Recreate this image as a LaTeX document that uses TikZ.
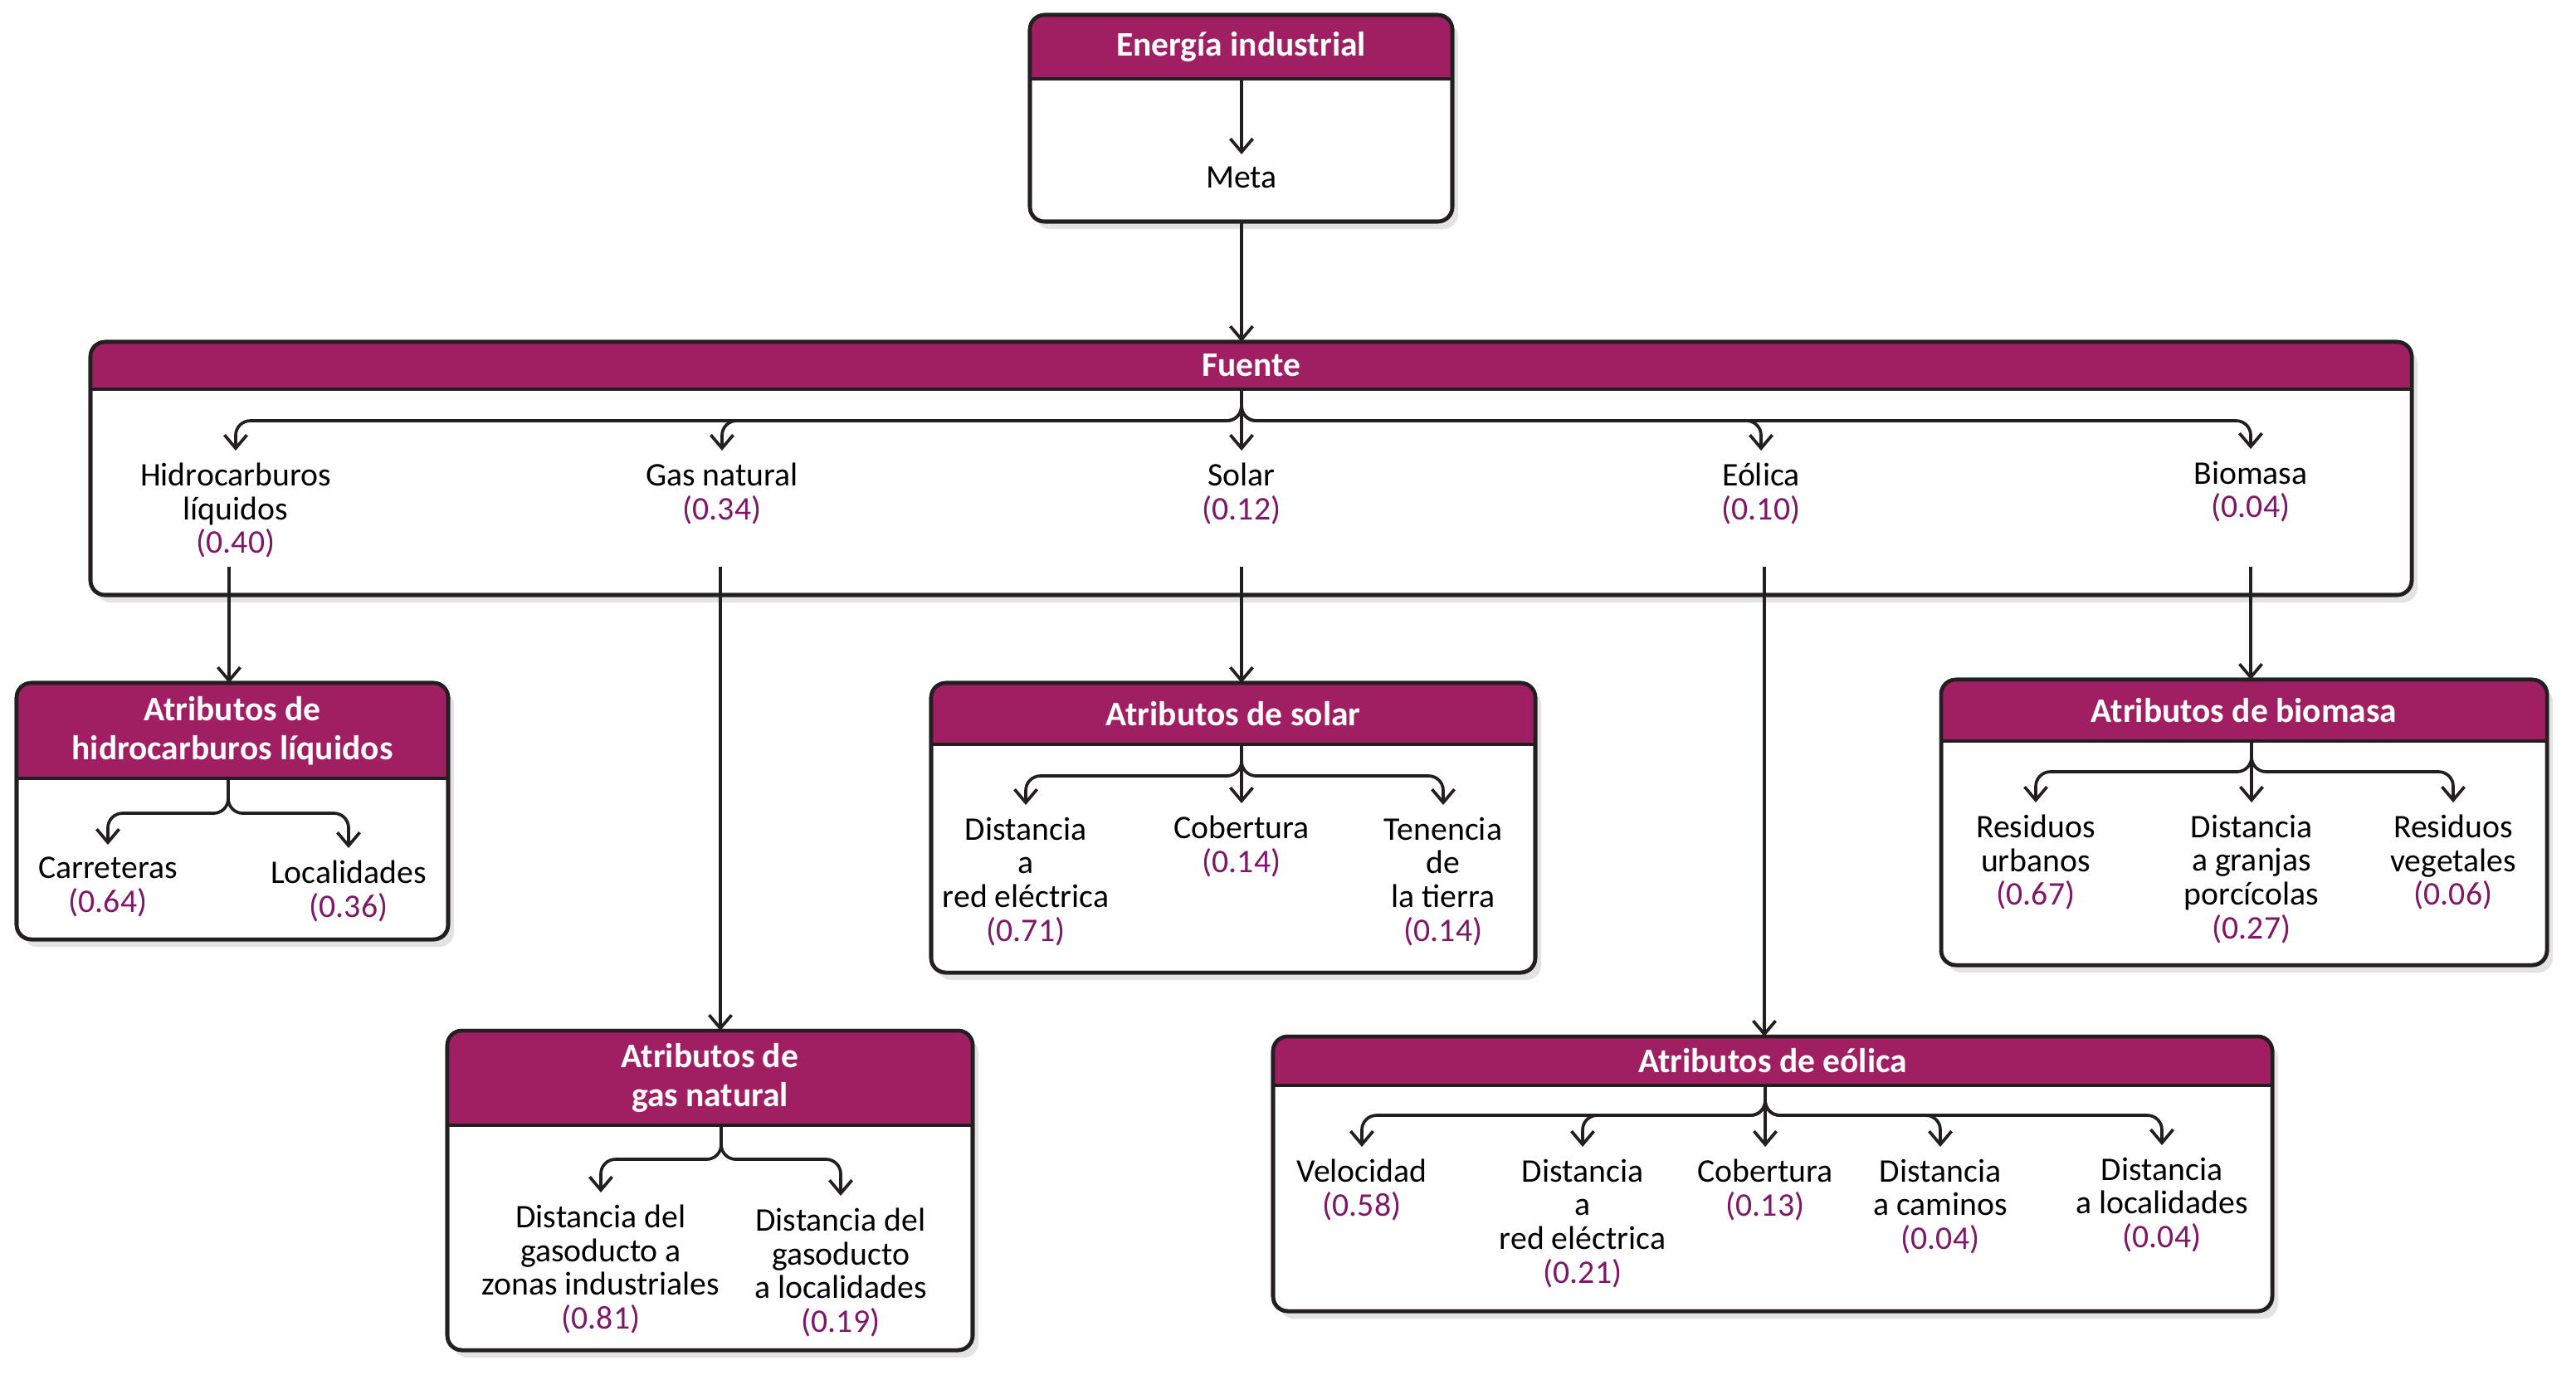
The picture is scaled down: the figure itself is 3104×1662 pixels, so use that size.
\documentclass[tikz,border=0pt]{standalone}
\usepackage{fontspec}
\setmainfont{Carlito}
\usepackage{xcolor}
\usetikzlibrary{
  arrows.meta,
  positioning,
  fit,
  shadows
}
\definecolor{hdrmag}{RGB}{160,31,99}
\definecolor{valpurple}{RGB}{128,22,104}
\definecolor{boxline}{RGB}{35,31,32}

\newcommand{\val}[1]{\textcolor{valpurple}{#1}}

\tikzset{
  box/.style={draw=boxline, line width=1.3pt, rounded corners=5pt, fill=white,
    inner sep=0pt, outer sep=0pt,
    drop shadow={opacity=0.22, shadow xshift=0.07cm, shadow yshift=-0.09cm}},
  hdr/.style={font=\fontsize{11.8}{13.5}\selectfont\bfseries, text=white, align=center},
  lbl/.style={font=\fontsize{11.3}{11.6}\selectfont, align=center, anchor=north, inner sep=4pt},
  arr/.style={draw=boxline, line width=1.05pt, rounded corners=5pt,
    -{Straight Barb[length=1.6mm, width=2.7mm, line width=1.05pt]}}
}

% box with coloured header: name, x1, y1, x2, y2, header bottom, title
\newcommand{\hdrbox}[7]{%
  \node[box, fit={(#2,#3) (#4,#5)}] (#1) {};
  \begin{scope}
    \clip[rounded corners=5pt] (#1.north west) rectangle (#1.south east);
    \fill[hdrmag] (#1.north west) rectangle (#4,#6);
  \end{scope}
  \draw[boxline, line width=1.3pt, rounded corners=5pt] (#1.north west) rectangle (#1.south east);
  \draw[boxline, line width=1.3pt] (#2,#6) -- (#4,#6);
  \node[hdr] (#1-t) at ({(#2+#4)/2},{(#3+#6)/2}) {#7};
}

\begin{document}
\begin{tikzpicture}[x=0.01cm, y=-0.01cm]
  \useasboundingbox (0,0) rectangle (3104,1662);

  % Goal
  \hdrbox{topbox}{1241}{18}{1750}{267}{95}{Energía industrial}
  \coordinate (topbox-h) at (1496,95);
  \node[lbl] (meta) at (1496,186) {Meta};
  \draw[arr] (topbox-h) -- (meta.north);

  % Sources
  \hdrbox{fuente}{109}{412}{2906}{717}{469}{Fuente}
  \draw[arr] (topbox.south -| meta) -- (fuente.north -| meta);
  \coordinate (fuente-h) at (1496,469);
  \node[lbl] (hidro) at (284,543) {Hidrocarburos\\líquidos\\\val{(0.40)}};
  \node[lbl] (gas) at (870,543) {Gas natural\\\val{(0.34)}};
  \node[lbl] (solar) at (1496,543) {Solar\\\val{(0.12)}};
  \node[lbl] (eolica) at (2122,543) {Eólica\\\val{(0.10)}};
  \node[lbl] (biomasa) at (2712,541) {Biomasa\\\val{(0.04)}};
  \foreach \n in {hidro,gas,eolica,biomasa}
    \draw[arr] (fuente-h) -- (fuente-h |- 0,507) -| (\n.north);
  \draw[arr] (fuente-h) -- (solar.north);

  \coordinate (hidro-d) at (276,683);
  \coordinate (gas-d) at (868,683);
  \coordinate (solar-d) at (1496,683);
  \coordinate (eolica-d) at (2126,683);
  \coordinate (biomasa-d) at (2712,683);

  % Liquid hydrocarbons
  \hdrbox{hidrobox}{20}{823}{540}{1132}{938}{Atributos de\\hidrocarburos líquidos}
  \draw[arr] (hidro-d) -- (hidro-d |- hidrobox.north);
  \coordinate (hidrobox-h) at (275,938);
  \node[lbl] (carreteras) at (130,1018) {Carreteras\\\val{(0.64)}};
  \node[lbl] (localidades) at (420,1022) {Localidades\\\val{(0.36)}};
  \foreach \n in {carreteras,localidades}
    \draw[arr] (hidrobox-h) -- (hidrobox-h |- 0,980) -| (\n.north);

  % Natural gas
  \hdrbox{gasbox}{539}{1242}{1172}{1627}{1356}{Atributos de\\gas natural}
  \draw[arr] (gas-d) -- (gas-d |- gasbox.north);
  \coordinate (gasbox-h) at (869,1356);
  \node[lbl] (gasind) at (724,1437) {Distancia del\\gasoducto a\\zonas industriales\\\val{(0.81)}};
  \node[lbl] (gasloc) at (1013,1441) {Distancia del\\gasoducto\\a localidades\\\val{(0.19)}};
  \foreach \n in {gasind,gasloc}
    \draw[arr] (gasbox-h) -- (gasbox-h |- 0,1397) -| (\n.north);

  % Solar
  \hdrbox{solarbox}{1122}{823}{1850}{1172}{897}{Atributos de solar}
  \draw[arr] (solar-d) -- (solar-d |- solarbox.north);
  \coordinate (solarbox-h) at (1496,897);
  \node[lbl] (distred) at (1236,970) {Distancia\\a\\red eléctrica\\\val{(0.71)}};
  \node[lbl] (cobsolar) at (1496,968) {Cobertura\\\val{(0.14)}};
  \node[lbl] (tenencia) at (1739,970) {Tenencia\\de\\la tierra\\\val{(0.14)}};
  \foreach \n in {distred,tenencia}
    \draw[arr] (solarbox-h) -- (solarbox-h |- 0,935) -| (\n.north);
  \draw[arr] (solarbox-h) -- (cobsolar.north);

  % Wind
  \hdrbox{eolbox}{1534}{1249}{2738}{1580}{1308}{Atributos de eólica}
  \draw[arr] (eolica-d) -- (eolica-d |- eolbox.north);
  \coordinate (eolbox-h) at (2127,1308);
  \node[lbl] (velocidad) at (1641,1382) {Velocidad\\\val{(0.58)}};
  \node[lbl] (distredeol) at (1907,1382) {Distancia\\a\\red eléctrica\\\val{(0.21)}};
  \node[lbl] (cobeol) at (2127,1382) {Cobertura\\\val{(0.13)}};
  \node[lbl] (caminos) at (2338,1382) {Distancia\\a caminos\\\val{(0.04)}};
  \node[lbl] (loceol) at (2605,1380) {Distancia\\a localidades\\\val{(0.04)}};
  \foreach \n in {velocidad,distredeol,caminos,loceol}
    \draw[arr] (eolbox-h) -- (eolbox-h |- 0,1344) -| (\n.north);
  \draw[arr] (eolbox-h) -- (cobeol.north);

  % Biomass
  \hdrbox{biobox}{2339}{819}{3069}{1163}{893}{Atributos de biomasa}
  \draw[arr] (biomasa-d) -- (biomasa-d |- biobox.north);
  \coordinate (biobox-h) at (2713,893);
  \node[lbl] (resurb) at (2453,967) {Residuos\\urbanos\\\val{(0.67)}};
  \node[lbl] (granjas) at (2713,967) {Distancia\\a granjas\\porcícolas\\\val{(0.27)}};
  \node[lbl] (resveg) at (2956,967) {Residuos\\vegetales\\\val{(0.06)}};
  \foreach \n in {resurb,resveg}
    \draw[arr] (biobox-h) -- (biobox-h |- 0,930) -| (\n.north);
  \draw[arr] (biobox-h) -- (granjas.north);
\end{tikzpicture}
\end{document}
